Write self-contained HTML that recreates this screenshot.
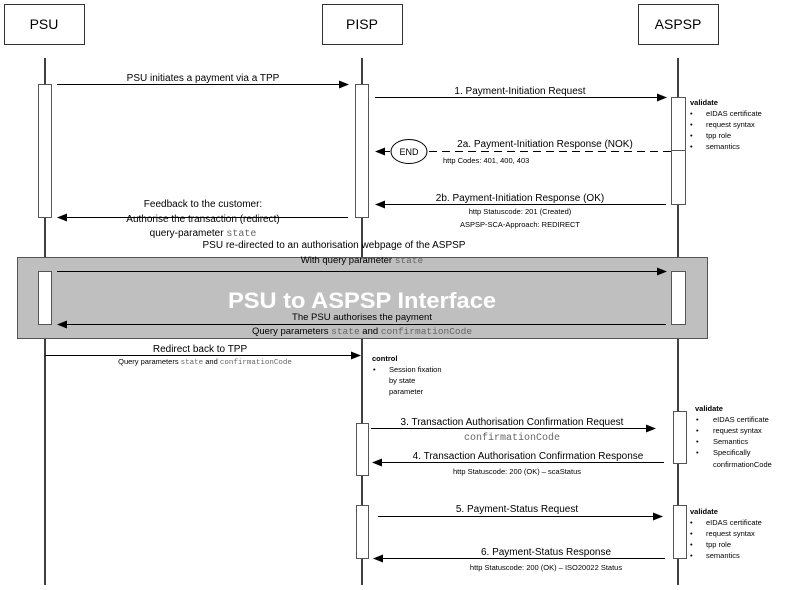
<!DOCTYPE html>
<html><head><meta charset="utf-8"><style>
html,body{margin:0;padding:0;background:#fff;}
svg{display:block;font-family:"Liberation Sans",sans-serif;}
.m{font-family:"Liberation Mono",monospace;fill:#666;}
</style></head><body>
<svg width="793" height="590" viewBox="0 0 793 590" xmlns="http://www.w3.org/2000/svg">
<defs>
<marker id="a" markerWidth="10" markerHeight="8" refX="9" refY="4" orient="auto" markerUnits="userSpaceOnUse"><path d="M0,0 L10,4 L0,8 z" fill="#000"/></marker>
</defs>
<g fill="#fff" stroke="#333" stroke-width="1">
<rect x="4.5" y="4.5" width="80" height="40"/>
<rect x="322.5" y="4.5" width="80" height="40"/>
<rect x="638.5" y="4.5" width="80" height="40"/>
</g>
<g font-size="14" text-anchor="middle" fill="#000">
<text x="44" y="29">PSU</text><text x="362" y="29">PISP</text><text x="678" y="29">ASPSP</text>
</g>
<g stroke="#000" stroke-width="1.5">
<line x1="45" y1="58" x2="45" y2="585"/>
<line x1="362" y1="58" x2="362" y2="585"/>
<line x1="678" y1="58" x2="678" y2="585"/>
</g>
<rect x="17.5" y="257.5" width="690" height="81" fill="#bfbfbf" stroke="#555"/>
<text x="228" y="308" font-size="22" font-weight="bold" fill="#fff" textLength="268" lengthAdjust="spacingAndGlyphs">PSU to ASPSP Interface</text>
<g fill="#fff" stroke="#555">
<rect x="38.5" y="84.5" width="13" height="133"/>
<rect x="355.5" y="84.5" width="13" height="133"/>
<rect x="671.5" y="97.5" width="14" height="107"/>
<rect x="38.5" y="271.5" width="13" height="53"/>
<rect x="671.5" y="271.5" width="14" height="53"/>
<rect x="356.5" y="423.5" width="12" height="52"/>
<rect x="673.5" y="411.5" width="13" height="52"/>
<rect x="356.5" y="505.5" width="12" height="53"/>
<rect x="673.5" y="505.5" width="13" height="53"/>
</g>
<line x1="671" y1="150.5" x2="686" y2="150.5" stroke="#555"/>
<g stroke="#000" stroke-width="1" fill="none" marker-end="url(#a)">
<line x1="57" y1="84.5" x2="348" y2="84.5"/>
<line x1="375" y1="97.5" x2="666" y2="97.5"/>
<line x1="390" y1="151.5" x2="376" y2="151.5"/>
<line x1="666" y1="204.5" x2="376" y2="204.5"/>
<line x1="348" y1="217.5" x2="58" y2="217.5"/>
<line x1="57" y1="271.5" x2="666" y2="271.5"/>
<line x1="666" y1="324.5" x2="58" y2="324.5"/>
<line x1="45" y1="355.5" x2="360" y2="355.5"/>
<line x1="371" y1="428.5" x2="655" y2="428.5"/>
<line x1="664" y1="462.5" x2="373" y2="462.5"/>
<line x1="378" y1="516.5" x2="662" y2="516.5"/>
<line x1="665" y1="558.5" x2="374" y2="558.5"/>
</g>
<line x1="671" y1="151.5" x2="427" y2="151.5" stroke="#000" stroke-dasharray="8,5"/>
<ellipse cx="409" cy="151.5" rx="18" ry="12" fill="#fff" stroke="#000"/>
<text x="409" y="155" font-size="9" text-anchor="middle">END</text>
<g font-size="10" text-anchor="middle" fill="#000">
<text x="203" y="81">PSU initiates a payment via a TPP</text>
<text x="520" y="94">1. Payment-Initiation Request</text>
<text x="545" y="147">2a. Payment-Initiation Response (NOK)</text>
<text x="520" y="201">2b. Payment-Initiation Response (OK)</text>
<text x="203" y="207">Feedback to the customer:</text>
<text x="203" y="222">Authorise the transaction (redirect)</text>
<text x="203" y="236">query-parameter <tspan class="m">state</tspan></text>
<text x="334" y="248">PSU re-directed to an authorisation webpage of the ASPSP</text>
<text x="362" y="263" font-size="9.5">With query parameter <tspan class="m">state</tspan></text>
<text x="362" y="320" font-size="9.5">The PSU authorises the payment</text>
<text x="362" y="334" font-size="9.5">Query parameters <tspan class="m">state</tspan> and <tspan class="m">confirmationCode</tspan></text>
<text x="200" y="352">Redirect back to TPP</text>
<text x="512" y="425">3. Transaction Authorisation Confirmation Request</text>
<text x="512" y="440" class="m" font-size="10">confirmationCode</text>
<text x="528" y="459">4. Transaction Authorisation Confirmation Response</text>
<text x="517" y="512">5. Payment-Status Request</text>
<text x="546" y="555">6. Payment-Status Response</text>
</g>
<g font-size="7.5" text-anchor="middle" fill="#000">
<text x="205" y="364">Query parameters <tspan class="m">state</tspan>  and <tspan class="m">confirmationCode</tspan></text>
<text x="520" y="214">http Statuscode: 201 (Created)</text>
<text x="520" y="227">ASPSP-SCA-Approach: REDIRECT</text>
<text x="517" y="474">http Statuscode: 200 (OK) – scaStatus</text>
<text x="546" y="570">http Statuscode: 200 (OK) – ISO20022 Status</text>
</g>
<text x="443" y="163" font-size="7.5">http Codes: 401, 400, 403</text>
<g font-size="7.5" fill="#000">
<text x="690" y="105" font-weight="bold">validate</text>
<text x="690" y="116">•</text><text x="706" y="116">eIDAS certificate</text>
<text x="690" y="127">•</text><text x="706" y="127">request syntax</text>
<text x="690" y="138">•</text><text x="706" y="138">tpp role</text>
<text x="690" y="149">•</text><text x="706" y="149">semantics</text>
<text x="372" y="361" font-weight="bold">control</text>
<text x="373" y="372">•</text><text x="389" y="372">Session fixation</text>
<text x="389" y="383">by state</text>
<text x="389" y="394">parameter</text>
<text x="695" y="411" font-weight="bold">validate</text>
<text x="696" y="422">•</text><text x="713" y="422">eIDAS certificate</text>
<text x="696" y="433">•</text><text x="713" y="433">request syntax</text>
<text x="696" y="444">•</text><text x="713" y="444">Semantics</text>
<text x="696" y="455">•</text><text x="713" y="455">Specifically</text>
<text x="713" y="467">confirmationCode</text>
<text x="690" y="514" font-weight="bold">validate</text>
<text x="690" y="525">•</text><text x="706" y="525">eIDAS certificate</text>
<text x="690" y="536">•</text><text x="706" y="536">request syntax</text>
<text x="690" y="547">•</text><text x="706" y="547">tpp role</text>
<text x="690" y="558">•</text><text x="706" y="558">semantics</text>
</g>
</svg>
</body></html>
